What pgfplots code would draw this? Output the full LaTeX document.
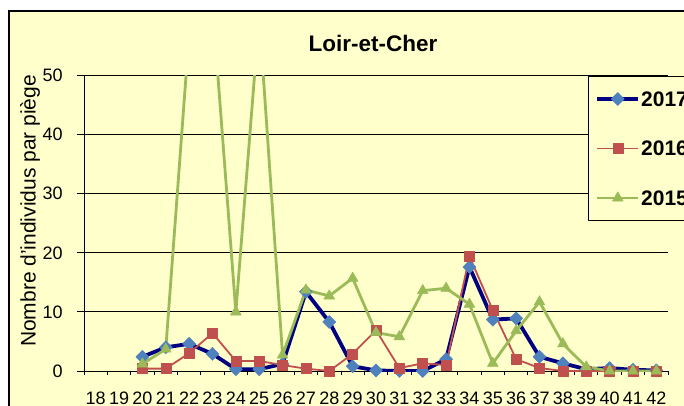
\documentclass[border=0pt]{standalone}
\usepackage{fontspec}
\setmainfont{Liberation Sans}
\usepackage{pgfplots}
\pgfplotsset{compat=1.18}

\definecolor{bgy}{HTML}{FFFFCC}
\definecolor{navy}{HTML}{000080}
\definecolor{bluem}{HTML}{4F81BD}
\definecolor{redm}{HTML}{C0504D}
\definecolor{greenm}{HTML}{9BBB59}

\begin{document}
\begin{tikzpicture}
\fill[white] (0,0) rectangle (684pt,405pt);
\fill[bgy] (9pt,-5pt) rectangle (700pt,394pt);
\draw[black, line width=1.2pt] (9pt,-5pt) -- (9pt,394pt) -- (700pt,394pt);

\node[font=\fontsize{22.5}{22.5}\selectfont\bfseries] at (373pt,362pt) {Loir-et-Cher};
\node[rotate=90, font=\fontsize{21}{21}\selectfont] at (30pt,194pt) {Nombre d'individus par piège};

\begin{axis}[
  at={(84pt,34pt)}, anchor=south west,
  scale only axis, width=584pt, height=295.5pt,
  xmin=17.5, xmax=42.5, ymin=0, ymax=50,
  xtick={18,...,42}, minor xtick={17.5,18.5,...,42.5},
  ytick={0,10,...,50},
  tick align=outside,
  xtick style={/pgfplots/major tick length=0pt, /pgfplots/minor tick length=4pt, black, line width=0.9pt},
  ytick style={/pgfplots/major tick length=7pt, black, line width=0.9pt},
  axis x line*=bottom, axis y line*=left,
  axis line style={black, line width=1pt},
  ymajorgrids, major grid style={black, line width=0.9pt},
  tick label style={font=\fontsize{18}{18}\selectfont, inner sep=0pt},
  /pgf/number format/assume math mode=true,
  xticklabel style={yshift=-16.5pt},
  yticklabel style={xshift=-17pt},
  clip marker paths=false,
  legend image code/.code={\draw[mark repeat=2,mark phase=2] plot coordinates {(0pt,0pt) (20.5pt,0pt) (41pt,0pt)};},
  legend style={at={(axis description cs:0.863,0.998)}, anchor=north west,
    draw=black, line width=0.8pt, fill=bgy,
    font=\fontsize{21}{21}\selectfont\bfseries,
    inner xsep=7pt, inner ysep=15pt, row sep=34.5pt,
    nodes={inner xsep=1pt, inner ysep=0pt, text height=15pt, text depth=0pt}},
  legend cell align=left,
  line join=round,
]
% 2017
\addplot[navy, line width=3.8pt, mark=square*, mark size=4.6pt,
  mark options={rotate=45, fill=bluem, draw=bluem, line width=0.5pt}] coordinates {
(20,2.4)(21,4.0)(22,4.6)(23,2.9)(24,0.3)(25,0.3)(26,1.2)(27,13.4)(28,8.3)(29,0.8)
(30,0.1)(31,0)(32,0)(33,2.0)(34,17.6)(35,8.7)(36,8.9)(37,2.4)(38,1.3)(39,0.3)
(40,0.5)(41,0.2)(42,0.1)};
% 2016
\addplot[redm, line width=1.8pt, mark=square*, mark size=5pt,
  mark options={fill=redm, draw=redm, line width=0.5pt}] coordinates {
(20,0.4)(21,0.4)(22,3.0)(23,6.4)(24,1.7)(25,1.7)(26,1.0)(27,0.4)(28,0)(29,2.9)
(30,6.9)(31,0.5)(32,1.3)(33,1.0)(34,19.4)(35,10.3)(36,2.0)(37,0.5)(38,0)(39,0)
(40,0)(41,0)(42,0)};
% 2015 (line, including the points above the 50 limit)
\addplot[greenm, line width=2.8pt, forget plot] coordinates {
(20,1.2)(21,3.7)(22,57)(23,62)(24,10.0)(25,60)(26,2.7)(27,13.7)(28,12.7)(29,15.7)
(30,6.5)(31,5.8)(32,13.6)(33,14.0)(34,11.3)(35,1.3)(36,6.8)(37,11.7)(38,4.6)(39,0.7)
(40,0)(41,0)(42,0)};
% 2015 markers (points within the axis range)
\addplot[only marks, mark=triangle*, mark size=6.2pt,
  mark options={fill=greenm, draw=greenm, line width=0.5pt}, forget plot] coordinates {
(20,1.2)(21,3.7)(24,10.0)(26,2.7)(27,13.7)(28,12.7)(29,15.7)
(30,6.5)(31,5.8)(32,13.6)(33,14.0)(34,11.3)(35,1.3)(36,6.8)(37,11.7)(38,4.6)(39,0.7)
(40,0)(41,0)(42,0)};
\addlegendimage{greenm, line width=2.8pt, mark=triangle*, mark size=6.2pt,
  mark options={fill=greenm, draw=greenm, line width=0.5pt}}
\legend{2017,2016,2015}
\end{axis}

\pgfresetboundingbox
\useasboundingbox (0,0) rectangle (684pt,405pt);
\end{tikzpicture}
\end{document}
